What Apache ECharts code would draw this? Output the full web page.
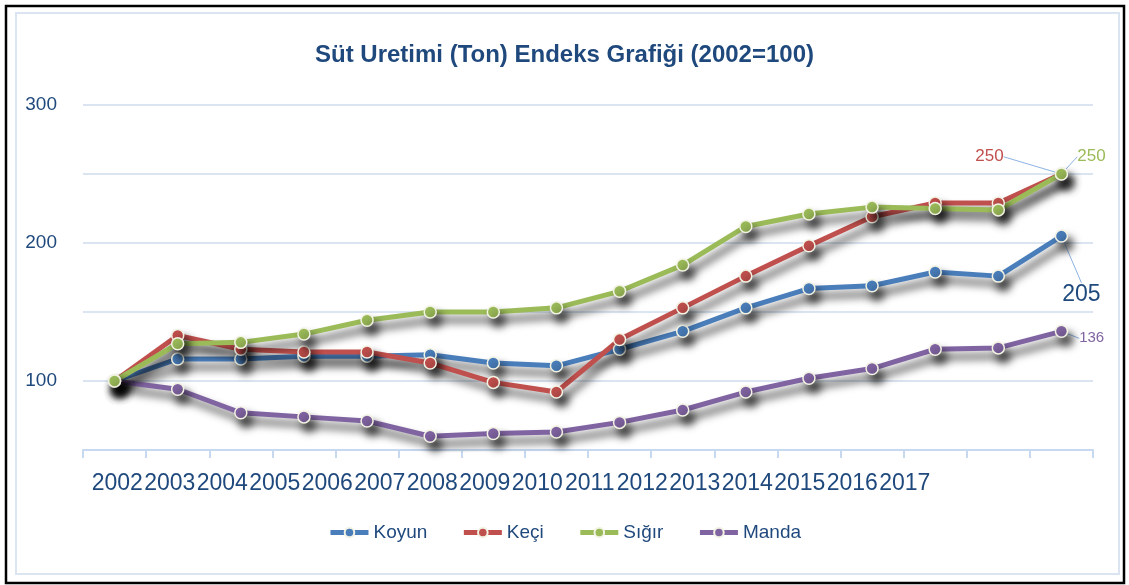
<!DOCTYPE html>
<html>
<head>
<meta charset="utf-8">
<script src="https://cdn.jsdelivr.net/npm/echarts@6/dist/echarts.min.js"></script>
<style>
  html, body { margin: 0; padding: 0; background: #fff; }
  #chart { width: 1129px; height: 585px; }
</style>
</head>
<body>
<div id="chart"></div>
<script>
// veriler
const years = ["2002", "2003", "2004", "2005", "2006", "2007", "2008", "2009",
  "2010", "2011", "2012", "2013", "2014", "2015", "2016", "2017"];
const koyun = [100, 116, 116, 118, 118, 119, 113, 111, 123, 136, 153, 167, 169, 179, 176, 205];
const keci = [100, 133, 123, 121, 121, 113, 99, 92, 130, 153, 176, 198, 219, 229, 229, 250];
const sigir = [100, 127, 128, 134, 144, 150, 150, 153, 165, 184, 212, 221, 226, 225, 224, 250];
const manda = [100, 94, 77, 74, 71, 60, 62, 63, 70, 79, 92, 102, 109, 123, 124, 136];
const yTicks = [100, 200, 300];

const font = "'Liberation Sans Narrow', 'Arial Narrow', 'Liberation Sans', sans-serif";
const navy = "#1f497d";

const chart = echarts.init(document.getElementById("chart"));

const shadow = {
  shadowColor: "rgba(0,0,0,0.7)",
  shadowBlur: 8,
  shadowOffsetX: 5,
  shadowOffsetY: 8,
};

// son noktanın etiketi
const makeSeries = (name, values, color, lbl) => ({
  name,
  type: "line",
  xAxisIndex: 0,
  yAxisIndex: 0,
  data: values.map((v, i) =>
    i === values.length - 1
      ? { value: v, label: Object.assign({ show: true }, lbl) }
      : v
  ),
  symbol: "circle",
  symbolSize: 12,
  lineStyle: Object.assign({ color, width: 5 }, shadow),
  itemStyle: Object.assign({ color, borderColor: "#f3f3e4", borderWidth: 1.5 }, shadow),
  label: { show: false, fontFamily: font },
  labelLine: { show: true, lineStyle: { color: "#8db3e2", width: 1 } },
  labelLayout: (p) => (p.dataIndex === values.length - 1 ? { dx: lbl.dx, dy: lbl.dy } : {}),
  z: 3,
});

const option = {
  animation: false,
  backgroundColor: "#fff",
  graphic: [
    {
      type: "rect",
      shape: { x: 6, y: 6, width: 1118, height: 577 },
      style: { fill: "none", stroke: "#000", lineWidth: 2.5 },
      silent: true,
    },
    {
      type: "rect",
      shape: { x: 16, y: 13, width: 1103, height: 561 },
      style: { fill: "none", stroke: "#dbe5f1", lineWidth: 2 },
      silent: true,
    },
  ],
  title: {
    text: "Süt Uretimi (Ton) Endeks Grafiği (2002=100)",
    left: "center",
    top: 38,
    textStyle: { color: navy, fontFamily: font, fontSize: 24, fontWeight: "bold" },
  },
  legend: {
    bottom: 38,
    left: "center",
    itemGap: 34,
    itemWidth: 38,
    itemHeight: 12,
    lineStyle: { width: 5 },
    textStyle: { color: navy, fontFamily: font, fontSize: 19 },
    data: ["Koyun", "Keçi", "Sığır", "Manda"],
  },
  grid: [
    { left: 83, right: 36, top: 105, bottom: 135 },
    { left: 91, width: 840, top: 105, bottom: 135 },
  ],
  xAxis: [
    {
      type: "category",
      gridIndex: 0,
      data: years,
      boundaryGap: true,
      axisLine: { lineStyle: { color: "#c6d9f1", width: 2 } },
      axisTick: { show: true, length: 8, lineStyle: { color: "#c6d9f1", width: 2 } },
      axisLabel: { show: false },
    },
    {
      type: "category",
      gridIndex: 1,
      data: years,
      boundaryGap: true,
      axisLine: { show: false },
      axisTick: { show: false },
      axisLabel: { color: navy, fontFamily: font, fontSize: 23, margin: 22, interval: 0 },
    },
  ],
  yAxis: [
    {
      type: "value",
      gridIndex: 0,
      min: 50,
      max: 300,
      interval: 50,
      axisLine: { show: false },
      axisTick: { show: false },
      splitLine: { lineStyle: { color: "#dbe5f1", width: 2 } },
      axisLabel: {
        color: navy,
        fontFamily: font,
        fontSize: 19,
        margin: 26,
        formatter: (v) => (yTicks.includes(v) ? String(v) : ""),
      },
    },
    { type: "value", gridIndex: 1, min: 50, max: 300, show: false },
  ],
  series: [
    makeSeries("Koyun", koyun, "#4a7ebb", { position: "bottom", dx: 20, dy: 35, color: navy, fontSize: 23 }),
    makeSeries("Manda", manda, "#8064a2", { position: "right", dx: 6, dy: 7, color: "#8064a2", fontSize: 15 }),
    makeSeries("Keçi", keci, "#c0504d", { position: "top", dx: -72, dy: 3, color: "#c0504d", fontSize: 17 }),
    makeSeries("Sığır", sigir, "#9bbb59", { position: "top", dx: 30, dy: 3, color: "#9bbb59", fontSize: 17 }),
  ],
};

chart.setOption(option);
</script>
</body>
</html>
